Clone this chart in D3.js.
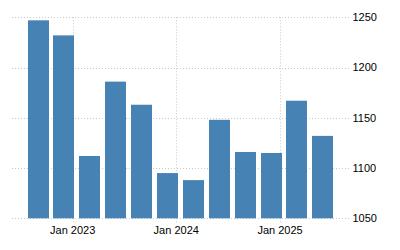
<!DOCTYPE html>
<html>
<head>
<meta charset="utf-8">
<script src="https://cdn.jsdelivr.net/npm/d3@7"></script>
<style>
  html, body { margin: 0; padding: 0; background: #fff; }
  svg { display: block; }
  text { font-family: "Liberation Sans", Arial, sans-serif; font-size: 11px; fill: #000; }
</style>
</head>
<body>
<script>
const dates = ["2022-09-01","2022-12-01","2023-03-01","2023-06-01","2023-09-01","2023-12-01",
               "2024-03-01","2024-06-01","2024-09-01","2024-12-01","2025-03-01","2025-06-01"];
const values = [1247, 1232, 1112, 1186, 1163, 1095, 1088, 1148, 1116, 1115, 1167, 1132];
const yTicks = [1050, 1100, 1150, 1200, 1250];
const xTicks = ["2023-01-01", "2024-01-01", "2025-01-01"];
const xTickLabels = ["Jan 2023", "Jan 2024", "Jan 2025"];

const W = 400, H = 250;
const mLeft = 12, mRight = 349, mTop = 17.3, mBottom = 218.3;
const parse = d3.utcParse("%Y-%m-%d");

const svg = d3.select("body").append("svg").attr("width", W).attr("height", H);

const x = d3.scaleUtc()
  .domain([parse("2022-06-01"), parse("2025-09-01")])
  .range([mLeft, mRight]);
const y = d3.scaleLinear().domain([1050, 1250]).range([mBottom, mTop]);

const grid = "#c8c8c8";
// horizontal grid
svg.append("g").selectAll("line").data(yTicks).join("line")
  .attr("x1", mLeft).attr("x2", mRight)
  .attr("y1", d => Math.round(y(d)) + 0.5).attr("y2", d => Math.round(y(d)) + 0.5)
  .attr("stroke", grid).attr("stroke-width", 1).attr("stroke-dasharray", "1,2");

// vertical grid
svg.append("g").selectAll("line").data(xTicks).join("line")
  .attr("x1", d => Math.round(x(parse(d))) + 0.5).attr("x2", d => Math.round(x(parse(d))) + 0.5)
  .attr("y1", mTop).attr("y2", mBottom + 4)
  .attr("stroke", grid).attr("stroke-width", 1).attr("stroke-dasharray", "1,2");

// bars
const bw = 21;
svg.append("g").selectAll("rect").data(values).join("rect")
  .attr("x", (d, i) => Math.round(x(parse(dates[i])) - bw / 2))
  .attr("width", bw)
  .attr("y", d => y(d))
  .attr("height", d => y(1050) - y(d))
  .attr("fill", "#4682b4");

// y labels
svg.append("g").selectAll("text").data(yTicks).join("text")
  .attr("x", 352.5).attr("y", d => y(d)).attr("dy", "0.35em")
  .text(d => d);

// x labels
svg.append("g").selectAll("text").data(xTicks).join("text")
  .attr("x", d => x(parse(d))).attr("y", 234)
  .attr("text-anchor", "middle")
  .text((d, i) => xTickLabels[i]);
</script>
</body>
</html>
